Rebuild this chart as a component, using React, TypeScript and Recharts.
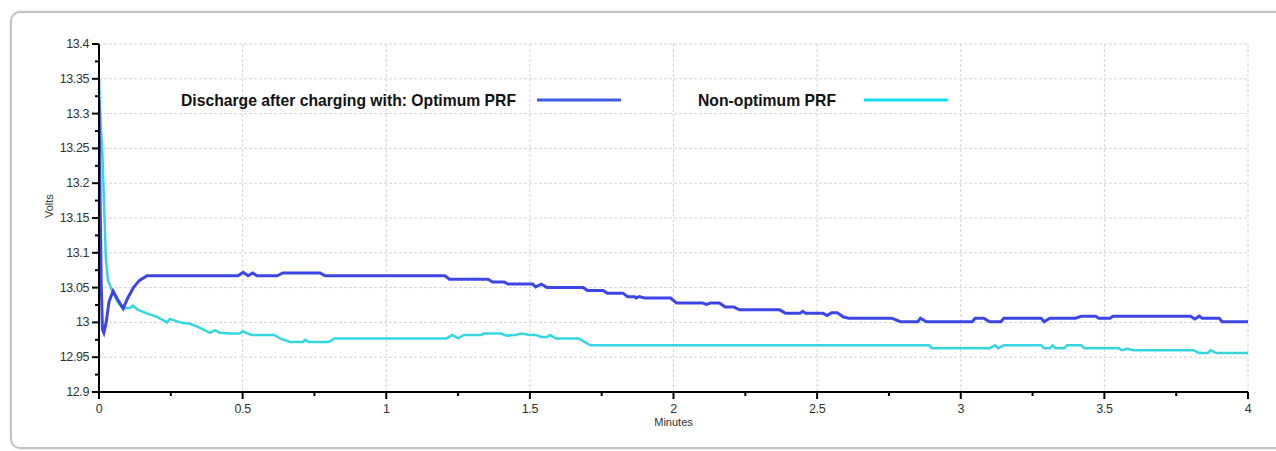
import { LineChart, Line, XAxis, YAxis, ReferenceLine, Legend, Label } from "recharts";

// Discharge curve after charging with the optimum PRF (blue)
const blueMinutes = [
  0, 0.003, 0.008, 0.012, 0.017, 0.025, 0.035, 0.049, 0.065, 0.084, 0.1, 0.12, 0.14, 0.167,
  0.484, 0.502, 0.519, 0.535, 0.55, 0.62, 0.64, 0.77, 0.787, 1.204, 1.22, 1.354, 1.37, 1.41,
  1.424, 1.51, 1.52, 1.54, 1.56, 1.685, 1.7, 1.755, 1.77, 1.824, 1.84, 1.865, 1.87, 1.88, 1.9,
  1.99, 2.01, 2.1, 2.115, 2.13, 2.16, 2.18, 2.21, 2.23, 2.37, 2.39, 2.44, 2.45, 2.46, 2.52,
  2.535, 2.55, 2.57, 2.59, 2.61, 2.76, 2.79, 2.85, 2.86, 2.88, 3.04, 3.05, 3.08, 3.1, 3.14,
  3.15, 3.28, 3.29, 3.31, 3.4, 3.42, 3.47, 3.48, 3.52, 3.53, 3.8, 3.815, 3.83, 3.84, 3.9, 3.91,
  4.0,
];
const blueVolts = [
  13.32, 13.2, 13.05, 12.99, 12.985, 13.0, 13.03, 13.045, 13.033, 13.02, 13.035, 13.05, 13.06,
  13.067, 13.067, 13.072, 13.067, 13.071, 13.067, 13.067, 13.071, 13.071, 13.067, 13.067,
  13.062, 13.062, 13.058, 13.058, 13.055, 13.055, 13.051, 13.055, 13.05, 13.05, 13.046, 13.046,
  13.042, 13.042, 13.037, 13.037, 13.035, 13.037, 13.035, 13.035, 13.028, 13.028, 13.026,
  13.028, 13.028, 13.022, 13.022, 13.018, 13.018, 13.013, 13.013, 13.016, 13.013, 13.013,
  13.01, 13.014, 13.014, 13.008, 13.006, 13.006, 13.001, 13.001, 13.006, 13.001, 13.001,
  13.006, 13.006, 13.001, 13.001, 13.006, 13.006, 13.001, 13.006, 13.006, 13.009, 13.009,
  13.006, 13.006, 13.009, 13.009, 13.005, 13.009, 13.006, 13.006, 13.001, 13.001,
];

// Discharge curve after charging with a non-optimum PRF (cyan)
const cyanMinutes = [
  0, 0.005, 0.012, 0.016, 0.02, 0.024, 0.031, 0.045, 0.066, 0.084, 0.108, 0.118, 0.136, 0.167,
  0.202, 0.237, 0.247, 0.282, 0.317, 0.352, 0.386, 0.404, 0.421, 0.456, 0.49, 0.5, 0.53, 0.61,
  0.63, 0.665, 0.71, 0.717, 0.73, 0.8, 0.82, 1.21, 1.23, 1.25, 1.27, 1.33, 1.34, 1.4, 1.42,
  1.45, 1.47, 1.5, 1.52, 1.54, 1.56, 1.57, 1.59, 1.67, 1.71, 2.89, 2.9, 3.1, 3.12, 3.13, 3.15,
  3.28, 3.29, 3.31, 3.32, 3.33, 3.36, 3.37, 3.42, 3.43, 3.55, 3.56, 3.58, 3.6, 3.81, 3.83,
  3.86, 3.87, 3.89, 4.0,
];
const cyanVolts = [
  13.35, 13.29, 13.24, 13.19, 13.14, 13.09, 13.061, 13.046, 13.029, 13.02, 13.021, 13.024,
  13.018, 13.013, 13.008, 13.0, 13.005, 13.0, 12.998, 12.992, 12.985, 12.989, 12.985, 12.984,
  12.984, 12.987, 12.982, 12.982, 12.977, 12.972, 12.972, 12.975, 12.972, 12.972, 12.977,
  12.977, 12.982, 12.977, 12.982, 12.982, 12.984, 12.984, 12.981, 12.982, 12.984, 12.982,
  12.982, 12.979, 12.979, 12.982, 12.977, 12.977, 12.967, 12.967, 12.963, 12.963, 12.967,
  12.963, 12.967, 12.967, 12.963, 12.963, 12.967, 12.963, 12.963, 12.967, 12.967, 12.963,
  12.963, 12.96, 12.962, 12.96, 12.96, 12.956, 12.956, 12.96, 12.956, 12.956,
];

const xTicks = [0, 0.25, 0.5, 0.75, 1, 1.25, 1.5, 1.75, 2, 2.25, 2.5, 2.75, 3, 3.25, 3.5, 3.75, 4];
const yTicks = [
  12.9, 12.925, 12.95, 12.975, 13, 13.025, 13.05, 13.075, 13.1, 13.125, 13.15, 13.175, 13.2,
  13.225, 13.25, 13.275, 13.3, 13.325, 13.35, 13.375, 13.4,
];
const xGrid = [0.5, 1, 1.5, 2, 2.5, 3, 3.5, 4];
const yGrid = [12.95, 13, 13.05, 13.1, 13.15, 13.2, 13.25, 13.3, 13.35, 13.4];

const blueData = blueMinutes.map((m, i) => ({ minutes: m, volts: blueVolts[i] }));
const cyanData = cyanMinutes.map((m, i) => ({ minutes: m, volts: cyanVolts[i] }));

const FONT = "'Liberation Sans', Arial, sans-serif";
const BLUE = "#3c46e6";
const CYAN = "#34d6e2";

const isMajor = (v: number, step: number) => Math.round(v * 1000) % Math.round(step * 1000) === 0;

function YTick({ x, y, payload }: any) {
  const major = isMajor(payload.value, 0.05);
  return (
    <g>
      <line x1={x - (major ? 7 : 4)} x2={x} y1={y} y2={y} stroke="#000" strokeWidth={2} />
      {major && (
        <text x={x - 10} y={y + 4} textAnchor="end" fontSize={12.5} fill="#333" fontFamily={FONT} letterSpacing={-0.4}>
          {String(payload.value)}
        </text>
      )}
    </g>
  );
}

function XTick({ x, y, payload }: any) {
  const major = isMajor(payload.value, 0.5);
  return (
    <g>
      <line x1={x} x2={x} y1={y} y2={y + (major ? 7 : 4)} stroke="#000" strokeWidth={2} />
      {major && (
        <text x={x} y={y + 21} textAnchor="middle" fontSize={12.5} fill="#333" fontFamily={FONT} letterSpacing={-0.4}>
          {String(payload.value)}
        </text>
      )}
    </g>
  );
}

function ChartLegend() {
  return (
    <svg width={1276} height={30} style={{ display: "block" }}>
      <text x={181} y={18} fontSize={17} fontWeight="bold" fill="#111" fontFamily={FONT} textLength={335} lengthAdjust="spacingAndGlyphs">
        Discharge after charging with: Optimum PRF
      </text>
      <line x1={537} x2={621} y1={12} y2={12} stroke="#3b5bdb" strokeWidth={3} />
      <text x={698} y={18} fontSize={17} fontWeight="bold" fill="#111" fontFamily={FONT} textLength={138} lengthAdjust="spacingAndGlyphs">
        Non-optimum PRF
      </text>
      <line x1={864} x2={948} y1={12} y2={12} stroke="#10dcef" strokeWidth={3} />
    </svg>
  );
}

export default function App() {
  return (
    <div style={{ position: "fixed", left: 0, top: 0, width: 1276, height: 451, overflow: "hidden", background: "#fff" }}>
      <div
        style={{
          position: "absolute",
          left: 10,
          top: 11,
          width: 1300,
          height: 434,
          border: "2px solid #c2c2c2",
          borderRadius: 10,
          boxShadow: "0 0 3px rgba(0,0,0,0.12)",
        }}
      />
      <div style={{ position: "absolute", left: 0, top: 0 }}>
        <LineChart width={1276} height={451} margin={{ top: 44, right: 28, bottom: 29, left: 39 }}>
          <XAxis
            type="number"
            dataKey="minutes"
            domain={[0, 4]}
            ticks={xTicks}
            interval={0}
            height={30}
            tick={<XTick />}
            tickSize={0}
            tickMargin={0}
            tickLine={false}
            axisLine={{ stroke: "#000", strokeWidth: 2 }}
            allowDataOverflow
          >
            <Label value="Minutes" position="insideBottom" offset={-4} fontSize={11} fill="#333" fontFamily={FONT} />
          </XAxis>
          <YAxis
            type="number"
            dataKey="volts"
            domain={[12.9, 13.4]}
            ticks={yTicks}
            interval={0}
            width={60}
            tick={<YTick />}
            tickSize={0}
            tickMargin={0}
            tickLine={false}
            axisLine={{ stroke: "#000", strokeWidth: 2 }}
            allowDataOverflow
          >
            <Label value="Volts" angle={-90} position="insideLeft" offset={10} fontSize={11} fill="#333" fontFamily={FONT} />
          </YAxis>
          {yGrid.map((v) => (
            <ReferenceLine key={`y-${v}`} y={v} stroke="#d4d4d4" strokeDasharray="3 2" />
          ))}
          {xGrid.map((v) => (
            <ReferenceLine key={`x-${v}`} x={v} stroke="#d4d4d4" strokeDasharray="3 2" />
          ))}
          <Legend
            layout="horizontal"
            verticalAlign="middle"
            align="center"
            content={() => <ChartLegend />}
            wrapperStyle={{ top: 88, left: 0, width: 1276 }}
          />
          <Line
            data={cyanData}
            dataKey="volts"
            type="linear"
            stroke={CYAN}
            strokeWidth={2.5}
            dot={false}
            isAnimationActive={false}
          />
          <Line
            data={blueData}
            dataKey="volts"
            type="linear"
            stroke={BLUE}
            strokeWidth={3}
            dot={false}
            isAnimationActive={false}
          />
        </LineChart>
      </div>
    </div>
  );
}
